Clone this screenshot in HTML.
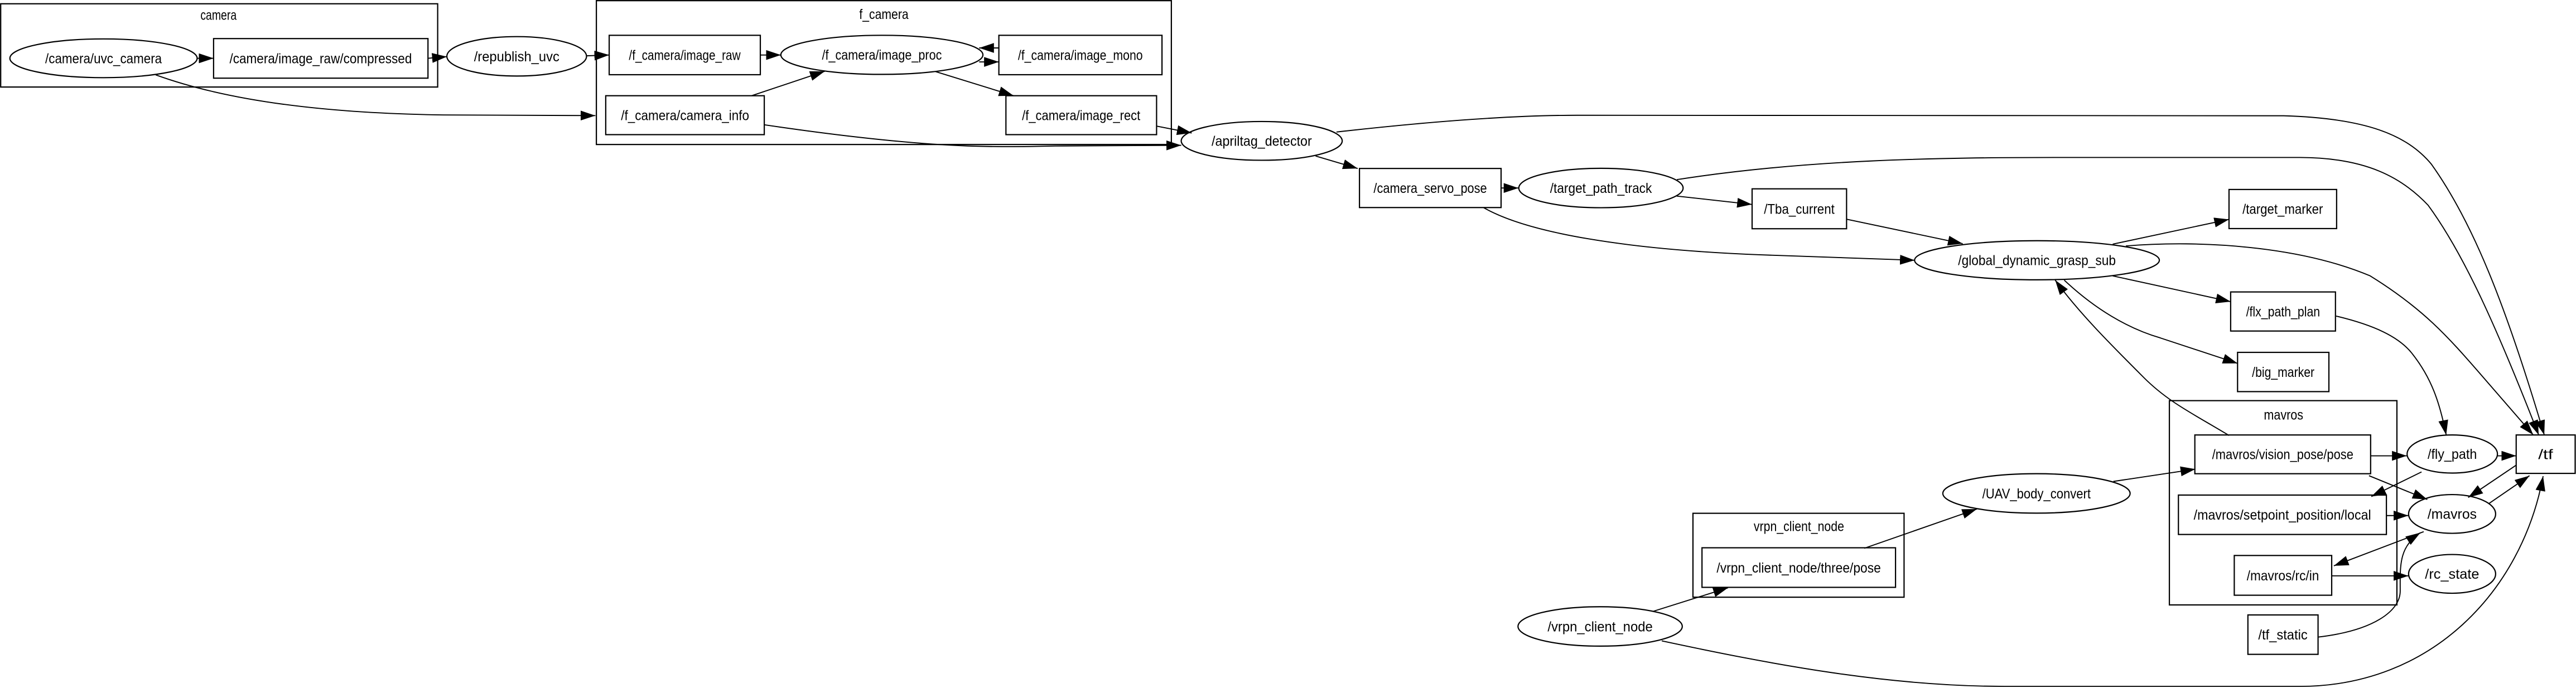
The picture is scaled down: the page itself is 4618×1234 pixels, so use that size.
<!DOCTYPE html>
<html><head><meta charset="utf-8"><style>
html,body{margin:0;padding:0;background:#fff;}
svg{display:block;}
text{font-family:"Liberation Sans",sans-serif;font-size:8.6px;fill:#000;text-anchor:middle;}
</style></head><body>
<svg xmlns="http://www.w3.org/2000/svg" width="4618" height="1234" viewBox="0 0 1568 419">
<defs>
<marker id="a" markerUnits="userSpaceOnUse" markerWidth="10" markerHeight="7" refX="9" refY="3" orient="auto">
<path d="M0,0 L9,3 L0,6 z" fill="#000"/></marker>
</defs>
<rect width="1568" height="419" fill="#fff"/>
<g fill="none" stroke="#000" stroke-width="0.75">
<rect x="0.4" y="2.3" width="266" height="50.7"/>
<rect x="363" y="0.4" width="350" height="87.6"/>
<rect x="1320.5" y="244" width="138.5" height="124.4"/>
<rect x="1030.5" y="312.6" width="128.5" height="51.1"/>
<ellipse cx="63" cy="35.5" rx="57" ry="11.8"/>
<ellipse cx="314.5" cy="34.3" rx="42.5" ry="12"/>
<ellipse cx="536.8" cy="33.4" rx="61.5" ry="11.9"/>
<ellipse cx="768" cy="85.8" rx="49" ry="11.8"/>
<ellipse cx="974.5" cy="114.5" rx="50" ry="12"/>
<ellipse cx="1239.9" cy="158.5" rx="74.5" ry="11.9"/>
<ellipse cx="1239.6" cy="300.5" rx="57" ry="12"/>
<ellipse cx="1492.7" cy="276.5" rx="27.5" ry="11.6"/>
<ellipse cx="1492.6" cy="313" rx="26.5" ry="11.8"/>
<ellipse cx="1492.6" cy="349.5" rx="26.5" ry="11.8"/>
<ellipse cx="974" cy="381.5" rx="50" ry="12"/>
<rect x="130" y="23.5" width="130.5" height="24.1"/>
<rect x="370.8" y="21.5" width="92" height="24"/>
<rect x="608" y="21.5" width="99.3" height="24"/>
<rect x="368.7" y="58.3" width="96.5" height="23.7"/>
<rect x="612.3" y="58.3" width="91.7" height="23.7"/>
<rect x="827.5" y="102.6" width="86.2" height="23.8"/>
<rect x="1066.5" y="115" width="57.5" height="24.3"/>
<rect x="1356.8" y="115.4" width="65.5" height="23.8"/>
<rect x="1357.8" y="177.8" width="63.8" height="23.8"/>
<rect x="1362" y="214.6" width="55.6" height="23.9"/>
<rect x="1336" y="264.9" width="107" height="23.6"/>
<rect x="1531.6" y="264.9" width="35.9" height="23.4"/>
<rect x="1326" y="301.5" width="126.6" height="24"/>
<rect x="1360" y="338.3" width="59.3" height="24.2"/>
<rect x="1368.3" y="374.5" width="42.7" height="24"/>
<rect x="1036" y="333.6" width="117.8" height="24.1"/>
</g>
<g fill="none" stroke="#000" stroke-width="0.65" marker-end="url(#a)">
<path d="M120,35.5 L130,35.5"/>
<path d="M260.5,35.5 L272,34.5"/>
<path d="M357,34 L370.8,33.5"/>
<path d="M94.8,45.6 C140,62 200,69 270,70 L362.4,70.4"/>
<path d="M462.8,33.5 L475.3,33.5"/>
<path d="M457.5,58.3 L502,43.4"/>
<path d="M608,29.2 L596,29.2"/>
<path d="M596,37.7 L608,37.7"/>
<path d="M569.5,43.6 L617,58.3"/>
<path d="M704,76.8 L725.4,81"/>
<path d="M465.2,76 C560,90 600,90 642.3,88.9 L719,88.5"/>
<path d="M813.5,80.4 C870,74 920,70.2 960,70.2 L1390,70.5 C1440,72 1465,82 1480,100 C1505,135 1525,185 1548.7,264.9"/>
<path d="M800.8,95 L826.4,102.6"/>
<path d="M1020.7,109.4 C1100,97 1180,95.9 1256,95.9 L1400,95.9 C1440,96 1462,108 1478,125 C1500,155 1520,200 1545.3,264.9"/>
<path d="M913.7,114.5 L924.3,114.5"/>
<path d="M903,126.4 C930,142 990,152 1072,155.2 L1165.5,158.5"/>
<path d="M1020.6,119.4 L1066.4,124.5"/>
<path d="M1124,133.5 L1194.7,148.4"/>
<path d="M1286,148.7 L1356.8,133.6"/>
<path d="M1294,149.8 C1340,146 1400,150 1442.7,168 C1475,188 1490,205 1510,228 L1542,264.9"/>
<path d="M1286,168 L1357.8,183.7"/>
<path d="M1256.5,170.6 C1275,188 1295,200 1315,205.8 L1362,221.3"/>
<path d="M1356.8,265.2 C1335,252 1320,245 1305,230 C1285,210 1265,190 1251,170.6"/>
<path d="M1422,192.5 C1445,198 1460,205 1468,215 C1480,230 1485,245 1489,264.9"/>
<path d="M1006,372.4 L1051.8,358"/>
<path d="M1134.8,333.9 L1203.3,310"/>
<path d="M1286.4,293.2 L1336.3,285.7"/>
<path d="M1443,277.6 L1465,277.6"/>
<path d="M1520,277.6 L1531.6,277.6"/>
<path d="M1442,289.7 L1477.5,304.2"/>
<path d="M1474,287.4 L1443.4,302.4"/>
<path d="M1452.6,314 L1466,314"/>
<path d="M1531.6,283.3 L1502.4,303"/>
<path d="M1514.8,306.8 L1539.7,289.7"/>
<path d="M1475.3,323.8 L1420.6,344.6"/>
<path d="M1411,388 C1445,384 1461,372 1461,360 C1461,345 1460,333 1473.3,324.4"/>
<path d="M1419.3,350.7 L1466,350.7"/>
<path d="M1011.5,390.3 C1080,405 1150,418 1220,418 L1400,418 C1480,418 1535,360 1548,290"/>
</g>
<g>
<text x="133" y="12" textLength="22" lengthAdjust="spacingAndGlyphs">camera</text>
<text x="538" y="11.5" textLength="30" lengthAdjust="spacingAndGlyphs">f_camera</text>
<text x="1390" y="255.5" textLength="24" lengthAdjust="spacingAndGlyphs">mavros</text>
<text x="1095" y="323.5" textLength="55" lengthAdjust="spacingAndGlyphs">vrpn_client_node</text>
<text x="63" y="38.5" textLength="71" lengthAdjust="spacingAndGlyphs">/camera/uvc_camera</text>
<text x="195.2" y="38.5" textLength="111" lengthAdjust="spacingAndGlyphs">/camera/image_raw/compressed</text>
<text x="314.5" y="37.3" textLength="52" lengthAdjust="spacingAndGlyphs">/republish_uvc</text>
<text x="416.8" y="36.5" textLength="68" lengthAdjust="spacingAndGlyphs">/f_camera/image_raw</text>
<text x="536.8" y="36.4" textLength="73" lengthAdjust="spacingAndGlyphs">/f_camera/image_proc</text>
<text x="657.6" y="36.5" textLength="76" lengthAdjust="spacingAndGlyphs">/f_camera/image_mono</text>
<text x="417" y="73.2" textLength="78" lengthAdjust="spacingAndGlyphs">/f_camera/camera_info</text>
<text x="658.1" y="73.2" textLength="72" lengthAdjust="spacingAndGlyphs">/f_camera/image_rect</text>
<text x="768" y="88.8" textLength="61" lengthAdjust="spacingAndGlyphs">/apriltag_detector</text>
<text x="870.6" y="117.5" textLength="69" lengthAdjust="spacingAndGlyphs">/camera_servo_pose</text>
<text x="974.5" y="117.5" textLength="62" lengthAdjust="spacingAndGlyphs">/target_path_track</text>
<text x="1095.2" y="130.2" textLength="43" lengthAdjust="spacingAndGlyphs">/Tba_current</text>
<text x="1239.9" y="161.5" textLength="96" lengthAdjust="spacingAndGlyphs">/global_dynamic_grasp_sub</text>
<text x="1389.5" y="130.3" textLength="49" lengthAdjust="spacingAndGlyphs">/target_marker</text>
<text x="1389.7" y="192.7" textLength="45" lengthAdjust="spacingAndGlyphs">/flx_path_plan</text>
<text x="1389.8" y="229.5" textLength="38" lengthAdjust="spacingAndGlyphs">/big_marker</text>
<text x="1389.5" y="279.7" textLength="86" lengthAdjust="spacingAndGlyphs">/mavros/vision_pose/pose</text>
<text x="1492.7" y="279.5" textLength="30" lengthAdjust="spacingAndGlyphs">/fly_path</text>
<text x="1549.5" y="279.7" textLength="9" lengthAdjust="spacingAndGlyphs">/tf</text>
<text x="1389.3" y="316.5" textLength="108" lengthAdjust="spacingAndGlyphs">/mavros/setpoint_position/local</text>
<text x="1492.6" y="316" textLength="30" lengthAdjust="spacingAndGlyphs">/mavros</text>
<text x="1389.6" y="353.4" textLength="44" lengthAdjust="spacingAndGlyphs">/mavros/rc/in</text>
<text x="1492.6" y="352.5" textLength="33" lengthAdjust="spacingAndGlyphs">/rc_state</text>
<text x="1389.6" y="389.5" textLength="30" lengthAdjust="spacingAndGlyphs">/tf_static</text>
<text x="1094.9" y="348.7" textLength="100" lengthAdjust="spacingAndGlyphs">/vrpn_client_node/three/pose</text>
<text x="1239.6" y="303.5" textLength="66" lengthAdjust="spacingAndGlyphs">/UAV_body_convert</text>
<text x="974" y="384.5" textLength="64" lengthAdjust="spacingAndGlyphs">/vrpn_client_node</text>
</g>
</svg>
</body></html>
